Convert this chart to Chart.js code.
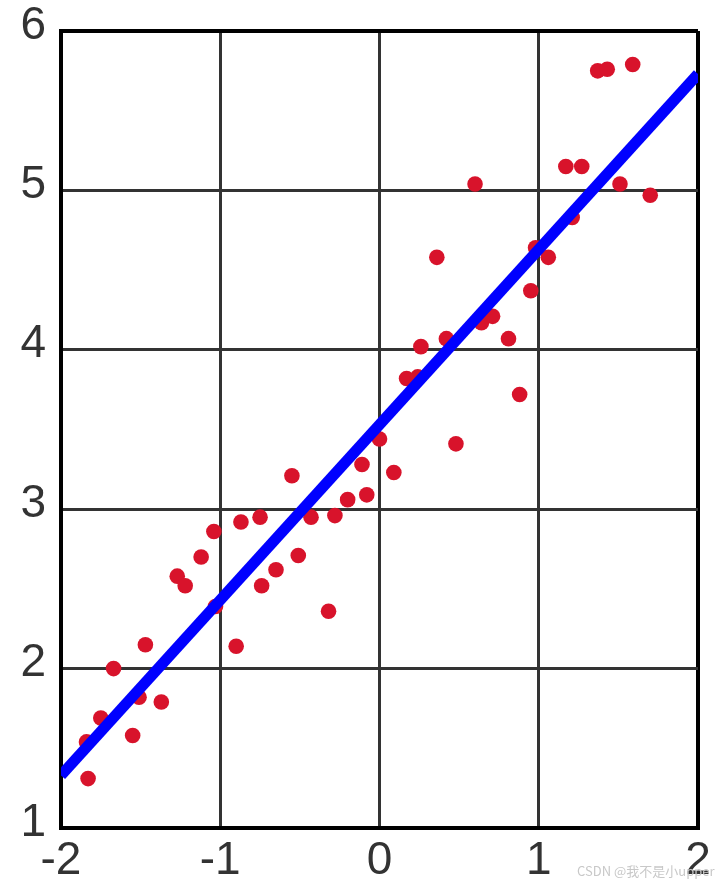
<!DOCTYPE html>
<html>
<head>
<meta charset="utf-8">
<script src="https://cdn.jsdelivr.net/npm/chart.js@4.4.0/dist/chart.umd.min.js"></script>
<style>
  body { margin: 0; background: #fff; }
  #wrap { position: relative; width: 724px; height: 885px; }
  #mark {
    position: absolute; left: 577px; top: 861px;
    font: 13px "Noto Sans CJK SC", "Liberation Sans", sans-serif;
    color: #c8c8c8; white-space: nowrap;
  }
</style>
</head>
<body>
<div id="wrap">
  <canvas id="plot" width="724" height="885"></canvas>
  <div id="mark">CSDN @我不是小upper</div>
</div>
<script>
// --- data ---
const sampleX = [
  -1.83, -1.84, -1.75, -1.67, -1.55, -1.51, -1.47, -1.37, -1.27, -1.22,
  -1.12, -1.04, -1.03, -0.90, -0.87, -0.75, -0.74, -0.65, -0.55, -0.51,
  -0.43, -0.32, -0.28, -0.20, -0.11, -0.08, 0.00, 0.09, 0.17, 0.24,
  0.26, 0.36, 0.42, 0.48, 0.60, 0.64, 0.71, 0.81, 0.88, 0.95,
  0.98, 1.06, 1.17, 1.21, 1.27, 1.37, 1.43, 1.51, 1.59, 1.70
];
const sampleY = [
  1.31, 1.54, 1.69, 2.00, 1.58, 1.82, 2.15, 1.79, 2.58, 2.52,
  2.70, 2.86, 2.39, 2.14, 2.92, 2.95, 2.52, 2.62, 3.21, 2.71,
  2.95, 2.36, 2.96, 3.06, 3.28, 3.09, 3.44, 3.23, 3.82, 3.83,
  4.02, 4.58, 4.07, 3.41, 5.04, 4.17, 4.21, 4.07, 3.72, 4.37,
  4.64, 4.58, 5.15, 4.83, 5.15, 5.75, 5.76, 5.04, 5.79, 4.97
];

// fitted line end points
const fitX = [-2, 2];
const fitY = [1.33, 5.73];

// axis ticks
const xTicks = [-2, -1, 0, 1, 2];
const yTicks = [1, 2, 3, 4, 5, 6];

const labelFont = { family: "'Liberation Sans', Arial, sans-serif", size: 46 };

const ctx = document.getElementById('plot').getContext('2d');
new Chart(ctx, {
  type: 'scatter',
  data: {
    datasets: [
      {
        type: 'line',
        data: fitX.map((x, i) => ({ x: x, y: fitY[i] })),
        borderColor: '#0000ff',
        borderWidth: 11,
        pointRadius: 0,
        fill: false,
        order: 0
      },
      {
        data: sampleX.map((x, i) => ({ x: x, y: sampleY[i] })),
        backgroundColor: '#d8132b',
        borderWidth: 0,
        pointRadius: 7.8,
        order: 1
      }
    ]
  },
  options: {
    responsive: false,
    animation: false,
    layout: { padding: { top: 31, right: 26, left: 0, bottom: 0 } },
    plugins: { legend: { display: false }, tooltip: { enabled: false } },
    scales: {
      x: {
        type: 'linear',
        min: xTicks[0],
        max: xTicks[xTicks.length - 1],
        afterBuildTicks: s => { s.ticks = xTicks.map(v => ({ value: v })); },
        afterFit: s => { s.height = 57; s.paddingLeft = 0; s.paddingRight = 0; },
        ticks: { font: labelFont, color: '#333', padding: 6, maxRotation: 0 },
        grid: {
          drawTicks: false,
          color: c => (c.tick && c.tick.value === 2) ? '#000' : '#333',
          lineWidth: c => (c.tick && c.tick.value === 2) ? 4 : 3
        },
        border: { color: '#000', width: 4 }
      },
      y: {
        min: yTicks[0],
        max: yTicks[yTicks.length - 1],
        afterBuildTicks: s => { s.ticks = yTicks.map(v => ({ value: v })); },
        afterFit: s => { s.width = 61; s.paddingTop = 0; s.paddingBottom = 0; },
        ticks: { font: labelFont, color: '#333', padding: 15, labelOffset: -5 },
        grid: {
          drawTicks: false,
          color: c => (c.tick && c.tick.value === 6) ? '#000' : '#333',
          lineWidth: c => (c.tick && c.tick.value === 6) ? 4 : 3
        },
        border: { color: '#000', width: 4 }
      }
    }
  }
});
</script>
</body>
</html>
